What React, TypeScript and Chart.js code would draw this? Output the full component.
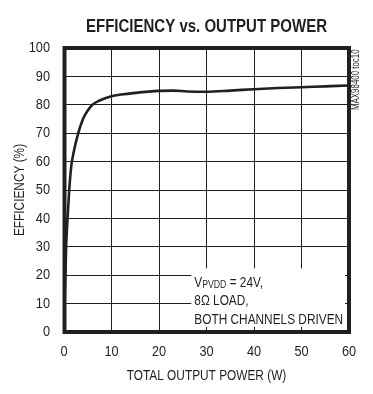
import React, { useEffect, useRef } from "react";
import { Chart, registerables } from "chart.js";

Chart.register(...registerables);

const powerW = [0.05, 0.1, 0.15, 0.3, 0.45, 0.75, 1.1, 1.5, 2.0, 3.0, 4.0, 5.0, 6.0, 7.5, 10, 12, 15, 20, 23, 26, 30, 35, 40, 45, 50, 55, 60];
const efficiency = [4, 8, 12, 20, 30, 40, 50, 58, 63, 70, 75, 78, 80, 81.5, 83, 83.6, 84.2, 84.9, 85.0, 84.7, 84.6, 85.0, 85.5, 85.9, 86.2, 86.5, 86.8];
const xTickValues = [0, 10, 20, 30, 40, 50, 60];
const yTickValues = [0, 10, 20, 30, 40, 50, 60, 70, 80, 90, 100];

const chartTitle = "EFFICIENCY vs. OUTPUT POWER";
const xTitle = "TOTAL OUTPUT POWER (W)";
const yTitle = "EFFICIENCY (%)";
const sideNote = "MAX98400 toc10";
const noteLines = ["= 24V,", "8\u03A9 LOAD,", "BOTH CHANNELS DRIVEN"];

const INK = "#231f20";
const FAMILY = "'Liberation Sans', Arial, sans-serif";

// Condense all canvas text horizontally (the reference uses a condensed face)
function condenseText(ctx: any) {
  if (ctx.__condensed) return;
  ctx.__condensed = true;
  const orig = ctx.fillText.bind(ctx);
  ctx.fillText = function (text: string, x: number, y: number, maxWidth?: number) {
    const s = String(text);
    const k = /^[0-9]+$/.test(s) ? 0.85 : 0.79;
    ctx.save();
    ctx.translate(x, y);
    ctx.scale(k, 1);
    if (maxWidth !== undefined) orig(s, 0, 0, maxWidth / k);
    else orig(s, 0, 0);
    ctx.restore();
  };
}

const decorPlugin = {
  id: "decor",
  beforeDatasetsDraw(chart: any) {
    const ctx = chart.ctx;
    const xs = chart.scales.x;
    const ys = chart.scales.y;
    ctx.save();
    ctx.fillStyle = "#ffffff";
    const bx = xs.getPixelForValue(26.8);
    const by = ys.getPixelForValue(22.4);
    ctx.fillRect(bx, by, xs.right - 4 - bx, ys.getPixelForValue(1.8) - by);
    ctx.fillStyle = INK;
    ctx.textAlign = "left";
    ctx.textBaseline = "alphabetic";
    const tx = bx + 3;
    const base1 = ys.getPixelForValue(15.9);
    ctx.font = `15px ${FAMILY}`;
    ctx.fillText("V", tx, base1);
    const vw = ctx.measureText("V").width * 0.79;
    ctx.font = `11px ${FAMILY}`;
    ctx.fillText("PVDD", tx + vw, base1 + 1);
    const sw = ctx.measureText("PVDD").width * 0.79;
    ctx.font = `15px ${FAMILY}`;
    ctx.fillText(" " + noteLines[0], tx + vw + sw, base1);
    ctx.fillText(noteLines[1], tx, base1 + 18.4);
    ctx.fillText(noteLines[2], tx, base1 + 36.8);
    ctx.restore();
  },
  afterDraw(chart: any) {
    const ctx = chart.ctx;
    const a = chart.chartArea;
    ctx.save();
    ctx.strokeStyle = INK;
    ctx.lineWidth = 4;
    ctx.strokeRect(a.left + 0.5, a.top, a.right - a.left - 0.5, a.bottom - a.top);
    ctx.fillStyle = INK;
    ctx.font = `bold 19px ${FAMILY}`;
    ctx.textAlign = "center";
    ctx.textBaseline = "alphabetic";
    ctx.fillText(chartTitle, (a.left + a.right) / 2, 32);
    ctx.font = `10px ${FAMILY}`;
    ctx.translate(a.right + 7.5, 110);
    ctx.rotate(-Math.PI / 2);
    ctx.textAlign = "left";
    ctx.textBaseline = "middle";
    ctx.fillText(sideNote, 0, 0);
    ctx.restore();
  },
};

export default function App() {
  const ref = useRef<HTMLCanvasElement | null>(null);
  useEffect(() => {
    if (!ref.current) return;
    const c2d = ref.current.getContext("2d");
    condenseText(c2d);
    const chart = new Chart(ref.current, {
      type: "line",
      data: {
        datasets: [
          {
            data: powerW.map((x, i) => ({ x, y: efficiency[i] })),
            borderColor: INK,
            borderWidth: 2.6,
            pointRadius: 0,
            fill: false,
            cubicInterpolationMode: "monotone",
          },
        ],
      },
      options: {
        animation: false,
        responsive: false,
        devicePixelRatio: 1,
        layout: { padding: { top: 48, right: 24, left: 0, bottom: 0 } },
        plugins: { legend: { display: false }, tooltip: { enabled: false }, title: { display: false } },
        scales: {
          x: {
            type: "linear",
            min: 0,
            max: 60,
            afterBuildTicks(scale: any) {
              scale.ticks = xTickValues.map((v) => ({ value: v }));
            },
            afterFit(scale: any) {
              scale.height = 62;
            },
            ticks: { color: INK, font: { family: FAMILY, size: 15 }, padding: 11, maxRotation: 0, autoSkip: false },
            grid: { color: INK, lineWidth: 1, drawTicks: false },
            border: { display: false },
            title: {
              display: true,
              text: xTitle,
              color: INK,
              font: { family: FAMILY, size: 15 },
              padding: { top: 0, bottom: 9 },
            },
          },
          y: {
            min: 0,
            max: 100,
            afterBuildTicks(scale: any) {
              scale.ticks = yTickValues.map((v) => ({ value: v }));
            },
            afterFit(scale: any) {
              scale.width = 64;
            },
            ticks: { color: INK, font: { family: FAMILY, size: 15 }, padding: 14, autoSkip: false },
            grid: { color: INK, lineWidth: 1, drawTicks: false },
            border: { display: false },
            title: {
              display: true,
              text: yTitle,
              color: INK,
              font: { family: FAMILY, size: 15 },
              padding: { top: 11, bottom: 0 },
            },
          },
        },
      },
      plugins: [decorPlugin],
    } as any);
    return () => chart.destroy();
  }, []);
  return (
    <div style={{ position: "absolute", left: 0, top: 0, width: 373, height: 394, background: "#fff" }}>
      <canvas ref={ref} width={373} height={394} style={{ display: "block" }} />
    </div>
  );
}
